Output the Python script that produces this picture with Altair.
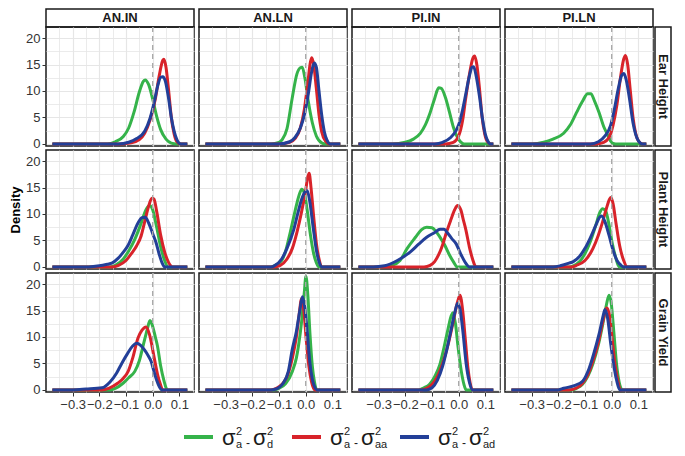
import altair as alt
import pandas as pd

# ---------------- data ----------------
SITES = ["AN.IN", "AN.LN", "PI.IN", "PI.LN"]
TRAITS = ["Ear Height", "Plant Height", "Grain Yield"]
SERIES = ["d", "aa", "ad"]
SERIES_COLORS = ["#35b34a", "#d8232a", "#233f98"]
X_START, X_END = -0.376, 0.13          # flat tails of every density curve
X_GRID = [-0.35, -0.3, -0.25, -0.2, -0.15, -0.1, -0.05, 0.0, 0.05, 0.1, 0.15]
Y_GRID = [0, 2.5, 5, 7.5, 10, 12.5, 15, 17.5, 20]

# (x, density) pairs per series
ear_AN_IN = {
    "d": [(-0.17, 0), (-0.14, 0.4), (-0.11, 1.4), (-0.09, 3), (-0.07, 6), (-0.05, 9.8), (-0.035, 11.8),
          (-0.028, 12.1), (-0.015, 11.2), (0.0, 8.5), (0.015, 5.2), (0.03, 2.7), (0.05, 0.9), (0.07, 0.15), (0.09, 0)],
    "aa": [(-0.12, 0), (-0.08, 0.2), (-0.05, 0.8), (-0.03, 2), (-0.01, 4.5), (0.01, 8.5), (0.025, 13), (0.038, 15.8),
           (0.042, 16), (0.05, 14.5), (0.06, 10), (0.07, 5), (0.08, 2), (0.09, 0.5), (0.105, 0)],
    "ad": [(-0.13, 0), (-0.09, 0.3), (-0.06, 1), (-0.03, 2.4), (-0.01, 4.8), (0.005, 7.7), (0.02, 11.2), (0.03, 12.6),
           (0.038, 12.7), (0.048, 11.8), (0.06, 8.5), (0.07, 5), (0.08, 2.5), (0.09, 0.9), (0.105, 0)],
}
ear_AN_LN = {
    "d": [(-0.13, 0), (-0.1, 0.3), (-0.088, 0.8), (-0.07, 2.9), (-0.051, 8.5), (-0.033, 13.2), (-0.02, 14.4),
          (-0.013, 14.5), (-0.003, 12.5), (0.01, 8), (0.025, 4), (0.04, 1.5), (0.06, 0.2), (0.075, 0)],
    "aa": [(-0.1, 0), (-0.06, 0.3), (-0.04, 1), (-0.02, 3), (-0.005, 6.5), (0.008, 11.5), (0.018, 15.5), (0.023, 16.3),
           (0.03, 15), (0.04, 10.5), (0.05, 5.5), (0.06, 2.3), (0.075, 0.5), (0.09, 0)],
    "ad": [(-0.1, 0), (-0.06, 0.4), (-0.04, 1.2), (-0.02, 3), (-0.005, 5.5), (0.01, 9.5), (0.022, 13.5), (0.032, 15.3),
           (0.04, 14.5), (0.05, 10), (0.06, 5.5), (0.07, 2.3), (0.08, 0.7), (0.092, 0)],
}
ear_PI_IN = {
    "d": [(-0.25, 0), (-0.2, 0.3), (-0.17, 0.9), (-0.144, 2), (-0.125, 3.6), (-0.107, 5.9), (-0.09, 8.6),
          (-0.075, 10.6), (-0.065, 10.5), (-0.05, 8.8), (-0.034, 5.9), (-0.02, 3.2), (-0.01, 1.8), (0.005, 0.5), (0.02, 0)],
    "aa": [(-0.05, 0), (-0.02, 0.3), (0.0, 1.5), (0.015, 4.5), (0.026, 8.5), (0.04, 13), (0.052, 16), (0.06, 16.6),
           (0.068, 15), (0.078, 10.5), (0.088, 5), (0.098, 1.8), (0.11, 0.3), (0.12, 0)],
    "ad": [(-0.09, 0), (-0.06, 0.3), (-0.03, 1.2), (-0.01, 2.5), (0.0, 3.6), (0.015, 6.5), (0.027, 9.5), (0.04, 12.8),
           (0.05, 14.5), (0.056, 14.6), (0.065, 13), (0.078, 9), (0.09, 4.5), (0.1, 1.8), (0.112, 0.3), (0.12, 0)],
}
ear_PI_LN = {
    "d": [(-0.3, 0), (-0.255, 0.3), (-0.22, 0.9), (-0.18, 2), (-0.155, 3.6), (-0.132, 5.9), (-0.11, 8), (-0.09, 9.5),
          (-0.078, 9.5), (-0.065, 8.2), (-0.047, 5.9), (-0.03, 3.3), (-0.016, 1.8), (-0.005, 0.6), (0.005, 0.1), (0.015, 0)],
    "aa": [(-0.06, 0), (-0.03, 0.3), (-0.01, 1.2), (0.005, 3.5), (0.02, 7.5), (0.033, 12.5), (0.045, 16), (0.052, 16.7),
           (0.06, 15), (0.07, 10), (0.08, 5), (0.09, 2), (0.1, 0.6), (0.115, 0)],
    "ad": [(-0.08, 0), (-0.05, 0.4), (-0.025, 1.5), (-0.004, 3.5), (0.01, 6.5), (0.025, 10.5), (0.038, 13), (0.046, 13.3),
           (0.055, 12), (0.067, 8.5), (0.08, 4), (0.09, 1.8), (0.1, 0.6), (0.115, 0)],
}
plant_AN_IN = {
    "d": [(-0.16, 0), (-0.14, 0.3), (-0.11, 1.5), (-0.09, 3), (-0.067, 5.2), (-0.045, 8), (-0.025, 10.8),
          (-0.012, 11.6), (0.0, 10.8), (0.015, 7.5), (0.03, 3.8), (0.045, 1.2), (0.058, 0)],
    "aa": [(-0.15, 0), (-0.128, 0.3), (-0.1, 1.2), (-0.08, 2.5), (-0.06, 4), (-0.043, 5.9), (-0.03, 8.5), (-0.015, 11.5),
           (-0.003, 13), (0.005, 12.8), (0.015, 10.5), (0.03, 6), (0.045, 2.8), (0.06, 0.8), (0.075, 0)],
    "ad": [(-0.24, 0), (-0.2, 0.2), (-0.17, 0.5), (-0.153, 0.7), (-0.13, 1.6), (-0.11, 2.8), (-0.092, 4.1), (-0.075, 6),
           (-0.055, 8.3), (-0.04, 9.3), (-0.028, 9.4), (-0.015, 8.3), (0.0, 6.3), (0.012, 4.7), (0.025, 2.3), (0.035, 0.8),
           (0.045, 0)],
}
plant_AN_LN = {
    "d": [(-0.13, 0), (-0.118, 0.2), (-0.09, 1.2), (-0.075, 3), (-0.058, 6.5), (-0.04, 10.5), (-0.025, 13.5),
          (-0.015, 14.7), (-0.005, 14), (0.005, 11), (0.018, 6), (0.03, 2.5), (0.04, 0.8), (0.05, 0)],
    "aa": [(-0.12, 0), (-0.095, 0.3), (-0.07, 1.5), (-0.05, 3.5), (-0.033, 6.5), (-0.015, 10.5), (0.0, 14.5), (0.008, 17),
           (0.013, 17.7), (0.02, 15), (0.03, 9.5), (0.04, 4.5), (0.05, 1.5), (0.06, 0)],
    "ad": [(-0.13, 0), (-0.118, 0.2), (-0.09, 1.5), (-0.07, 3.5), (-0.045, 7), (-0.03, 10), (-0.015, 12.8),
           (-0.002, 14.2), (0.006, 14.4), (0.015, 12.5), (0.028, 7.5), (0.04, 3.2), (0.05, 1), (0.06, 0)],
}
plant_PI_IN = {
    "d": [(-0.3, 0), (-0.25, 0.3), (-0.22, 1.2), (-0.193, 3.5), (-0.162, 5.6), (-0.14, 7), (-0.12, 7.5), (-0.1, 7.4),
          (-0.085, 6.7), (-0.065, 5.2), (-0.052, 4.1), (-0.035, 2.3), (-0.02, 1), (-0.005, 0)],
    "aa": [(-0.13, 0), (-0.107, 0.3), (-0.09, 1), (-0.075, 2.3), (-0.06, 4.2), (-0.046, 6.5), (-0.03, 8.8),
           (-0.015, 10.8), (-0.004, 11.6), (0.008, 10.8), (0.018, 8.8), (0.027, 7), (0.04, 3.8), (0.052, 1.5), (0.065, 0)],
    "ad": [(-0.32, 0), (-0.278, 0.2), (-0.23, 1.2), (-0.18, 2.9), (-0.15, 4.3), (-0.12, 5.6), (-0.09, 6.5), (-0.07, 7.1),
           (-0.055, 7.1), (-0.04, 6.3), (-0.025, 5.3), (-0.01, 4.4), (0.01, 2.2), (0.025, 0.8), (0.04, 0)],
}
plant_PI_LN = {
    "d": [(-0.16, 0), (-0.144, 0.2), (-0.12, 1), (-0.1, 2.5), (-0.08, 4.8), (-0.06, 7.8), (-0.045, 10.2), (-0.034, 11),
          (-0.022, 10.5), (-0.01, 8), (0.002, 4.5), (0.015, 1.8), (0.028, 0)],
    "aa": [(-0.15, 0), (-0.132, 0.3), (-0.1, 1.2), (-0.07, 3.5), (-0.05, 6), (-0.034, 8.5), (-0.02, 11), (-0.008, 12.8),
           (-0.003, 13.1), (0.005, 12), (0.017, 8), (0.03, 4), (0.045, 1.2), (0.058, 0)],
    "ad": [(-0.22, 0), (-0.193, 0.2), (-0.16, 0.7), (-0.144, 1), (-0.12, 2), (-0.1, 3.5), (-0.08, 5.5), (-0.06, 7.8),
           (-0.045, 9.4), (-0.038, 9.6), (-0.025, 8.5), (-0.01, 6), (0.005, 3.2), (0.02, 1.2), (0.035, 0.3), (0.045, 0)],
}
grain_AN_IN = {
    "d": [(-0.16, 0), (-0.14, 0.3), (-0.11, 1.3), (-0.09, 2.3), (-0.067, 3.5), (-0.05, 5.5), (-0.035, 8.5), (-0.02, 11.5),
          (-0.01, 13.1), (0.0, 12), (0.01, 10), (0.018, 8.3), (0.03, 4.5), (0.042, 1.8), (0.055, 0)],
    "aa": [(-0.19, 0), (-0.165, 0.3), (-0.13, 1.3), (-0.11, 2.2), (-0.092, 3.5), (-0.075, 6), (-0.055, 9.8),
           (-0.04, 11.3), (-0.025, 11.9), (-0.012, 10.5), (0.006, 6), (0.018, 3), (0.028, 1.2), (0.038, 0)],
    "ad": [(-0.3, 0), (-0.25, 0.15), (-0.19, 0.4), (-0.16, 1.5), (-0.135, 3.2), (-0.116, 5), (-0.095, 6.8),
           (-0.075, 8.3), (-0.06, 8.8), (-0.045, 8.4), (-0.03, 7.5), (-0.015, 6.3), (-0.006, 5.4), (0.005, 3.5),
           (0.015, 1.8), (0.025, 0.6), (0.035, 0)],
}
grain_AN_LN = {
    "d": [(-0.12, 0), (-0.1, 0.3), (-0.075, 1.2), (-0.05, 3.5), (-0.035, 6), (-0.027, 8.3), (-0.015, 13), (-0.005, 18.5),
          (0.001, 21.5), (0.008, 18), (0.016, 10.7), (0.025, 4.5), (0.033, 1.5), (0.042, 0)],
    "aa": [(-0.13, 0), (-0.11, 0.3), (-0.09, 1), (-0.07, 2.5), (-0.05, 6), (-0.035, 10), (-0.025, 14), (-0.015, 17.3),
           (-0.007, 15), (0.003, 9), (0.012, 4.5), (0.022, 1.5), (0.034, 0)],
    "ad": [(-0.13, 0), (-0.105, 0.3), (-0.085, 1.2), (-0.065, 3.5), (-0.05, 7.7), (-0.035, 11), (-0.022, 15),
           (-0.012, 17.6), (-0.003, 15.5), (0.006, 11), (0.015, 5.5), (0.025, 2), (0.034, 0.5), (0.042, 0)],
}
grain_PI_IN = {
    "d": [(-0.15, 0), (-0.13, 0.4), (-0.11, 1), (-0.09, 2.5), (-0.071, 4.7), (-0.055, 8), (-0.04, 11.5), (-0.028, 14),
          (-0.022, 14.6), (-0.012, 12.5), (-0.002, 8), (0.01, 3.5), (0.02, 1), (0.028, 0)],
    "aa": [(-0.14, 0), (-0.12, 0.3), (-0.1, 1), (-0.08, 2.5), (-0.06, 5), (-0.04, 8.5), (-0.02, 13), (-0.005, 16.5),
           (0.005, 17.9), (0.015, 15), (0.025, 9.5), (0.035, 4), (0.043, 1.3), (0.052, 0)],
    "ad": [(-0.12, 0), (-0.1, 0.4), (-0.08, 1.8), (-0.06, 4.5), (-0.045, 7.5), (-0.03, 11), (-0.015, 14.5),
           (-0.004, 16.4), (0.006, 15), (0.017, 10.5), (0.028, 5), (0.04, 1.5), (0.052, 0)],
}
grain_PI_LN = {
    "d": [(-0.15, 0), (-0.132, 0.3), (-0.11, 1), (-0.09, 2.5), (-0.07, 5), (-0.05, 8.5), (-0.035, 12), (-0.02, 16),
          (-0.01, 17.9), (-0.002, 16.5), (0.008, 11), (0.018, 5), (0.028, 1.5), (0.04, 0)],
    "aa": [(-0.16, 0), (-0.13, 0.4), (-0.11, 1.2), (-0.09, 2.8), (-0.07, 5.5), (-0.05, 9), (-0.035, 12.5),
           (-0.018, 15.5), (-0.008, 14), (0.002, 9.5), (0.012, 5), (0.022, 2), (0.033, 0)],
    "ad": [(-0.2, 0), (-0.18, 0.3), (-0.14, 0.8), (-0.108, 1.7), (-0.085, 4), (-0.059, 8.3), (-0.045, 11),
           (-0.032, 14), (-0.025, 15.2), (-0.015, 13.5), (-0.003, 8.5), (0.01, 4), (0.02, 1.5), (0.03, 0)],
}

CURVES = {
    ("Ear Height", "AN.IN"): ear_AN_IN, ("Ear Height", "AN.LN"): ear_AN_LN,
    ("Ear Height", "PI.IN"): ear_PI_IN, ("Ear Height", "PI.LN"): ear_PI_LN,
    ("Plant Height", "AN.IN"): plant_AN_IN, ("Plant Height", "AN.LN"): plant_AN_LN,
    ("Plant Height", "PI.IN"): plant_PI_IN, ("Plant Height", "PI.LN"): plant_PI_LN,
    ("Grain Yield", "AN.IN"): grain_AN_IN, ("Grain Yield", "AN.LN"): grain_AN_LN,
    ("Grain Yield", "PI.IN"): grain_PI_IN, ("Grain Yield", "PI.LN"): grain_PI_LN,
}
LEGEND_SUBS = ["d", "aa", "ad"]

# ---------------- styling / layout ----------------
FONT = "Liberation Sans"
PW, PH = 148, 119
ROW_GAP, COL_GAP = 4, 5
STRIP_CELL_H, STRIP_VIS = 14, 18          # strip box reaches down over the row gap
RSTRIP_CELL_W, RSTRIP_VIS = 13, 16        # right strip box reaches left over the column gap
TEXT_COL = "#333333"
GRID_COL = "#e6e6e6"
BORDER = "#1a1a1a"
X_SCALE = alt.Scale(domain=[-0.40, 0.155], nice=False, zero=False)
Y_SCALE = alt.Scale(domain=[-0.4, 22.1], nice=False, zero=False)
X_MINOR = "abs(round(datum.value * 100)) % 10 != 0"
Y_MINOR = "datum.value % 5 != 0"


def cond(test, a, b):
    return {"condition": {"test": test, "value": a}, "value": b}


def x_axis(show):
    return alt.Axis(values=X_GRID, format=".1f",
                    labelExpr=f"({X_MINOR}) ? '' : datum.label",
                    labels=show, ticks=show, tickSize=4, tickColor=TEXT_COL,
                    tickOpacity=cond(X_MINOR, 0, 1), domain=False, grid=True,
                    gridColor=GRID_COL, gridWidth=cond(X_MINOR, 0.8, 1.2),
                    title=None, labelFont=FONT, labelFontSize=13, labelColor=TEXT_COL,
                    labelPadding=2, labelOverlap=False, labelFlush=False)


def y_axis(show, title):
    kw = dict(values=Y_GRID, format=".0f",
              labelExpr=f"({Y_MINOR}) ? '' : datum.label",
              labels=show, ticks=show, tickSize=4, tickColor=TEXT_COL,
              tickOpacity=cond(Y_MINOR, 0, 1), domain=False, grid=True,
              gridColor=GRID_COL, gridWidth=cond(Y_MINOR, 0.8, 1.2),
              labelFont=FONT, labelFontSize=13, labelColor=TEXT_COL,
              labelPadding=2, labelOverlap=False, labelFlush=False)
    if title:
        kw.update(title="Density", titleFont=FONT, titleFontSize=13, titleFontWeight="bold",
                  titleColor="#000000", titlePadding=3)
    else:
        kw.update(title=None)
    return alt.Axis(**kw)


def panel(trait, site, ci, ri):
    layers = []
    for s, col in zip(SERIES, SERIES_COLORS):
        pts = [(X_START, 0)] + CURVES[(trait, site)][s] + [(X_END, 0)]
        data = pd.DataFrame(pts, columns=["x", "density"])
        layers.append(
            alt.Chart(data).mark_line(color=col, strokeWidth=3, interpolate="monotone").encode(
                x=alt.X("x:Q", scale=X_SCALE, axis=x_axis(ri == 2)),
                y=alt.Y("density:Q", scale=Y_SCALE, axis=y_axis(ci == 0, ci == 0 and ri == 1)),
            )
        )
    vline = alt.Chart(pd.DataFrame({"x": [0.0]})).mark_rule(
        color="#a8a8a8", strokeDash=[5, 4], strokeWidth=1.3).encode(
        x=alt.X("x:Q", scale=X_SCALE, axis=x_axis(ri == 2)))
    return alt.layer(*layers, vline).properties(width=PW, height=PH)


BAND = alt.Scale(paddingInner=0, paddingOuter=0)
NO_VIEW = alt.ViewBackground(strokeOpacity=0)


def top_strip(label):
    base = alt.Chart(pd.DataFrame({"label": [label]}))
    box = base.mark_rect(fill="white", stroke=BORDER, strokeWidth=1.5).encode(
        x=alt.X("label:N", axis=None, scale=BAND), y=alt.value(0), y2=alt.value(STRIP_VIS))
    txt = base.mark_text(font=FONT, fontWeight="bold", fontSize=13, color="#1a1a1a",
                         baseline="middle").encode(
        x=alt.X("label:N", axis=None, scale=BAND), y=alt.value(STRIP_VIS / 2), text="label:N")
    return alt.layer(box, txt).properties(width=PW, height=STRIP_CELL_H, view=NO_VIEW)


def right_strip(label):
    base = alt.Chart(pd.DataFrame({"label": [label]}))
    off = RSTRIP_VIS - RSTRIP_CELL_W
    box = base.mark_rect(fill="white", stroke=BORDER, strokeWidth=1.5).encode(
        y=alt.Y("label:N", axis=None, scale=BAND), x=alt.value(-off), x2=alt.value(RSTRIP_CELL_W))
    txt = base.mark_text(font=FONT, fontWeight="bold", fontSize=13, color="#1a1a1a",
                         baseline="middle", angle=90).encode(
        y=alt.Y("label:N", axis=None, scale=BAND), x=alt.value(RSTRIP_CELL_W - RSTRIP_VIS / 2),
        text="label:N")
    return alt.layer(box, txt).properties(width=RSTRIP_CELL_W, height=PH, view=NO_VIEW)


blank = alt.Chart(pd.DataFrame({"label": [" "]})).mark_text().encode(
    x=alt.X("label:N", axis=None, scale=BAND), text="label:N").properties(
    width=RSTRIP_CELL_W, height=STRIP_CELL_H, view=NO_VIEW)

cells = [top_strip(s) for s in SITES] + [blank]
for ri, trait in enumerate(TRAITS):
    for ci, site in enumerate(SITES):
        cells.append(panel(trait, site, ci, ri))
    cells.append(right_strip(trait))
grid = alt.concat(*cells, columns=5, spacing={"row": ROW_GAP, "column": COL_GAP}, bounds="flush")

# ---------------- custom legend (sigma^2_a - sigma^2_x) ----------------
# legend origin is aligned with the left edge of the first panel
LEG_W, LEG_H = 560, 20
LEG_X0, LEG_PITCH, LEG_LINE = 138, 108, 29
leg_df = pd.DataFrame({"series": SERIES, "idx": [0, 1, 2], "sub": LEGEND_SUBS})
LS = alt.Scale(domain=[0, LEG_W], nice=False, zero=False)
CS = alt.Scale(domain=SERIES, range=SERIES_COLORS)
leg_base = alt.Chart(leg_df).transform_calculate(
    pos=f"{LEG_X0} + datum.idx * {LEG_PITCH}",
    pos2=f"{LEG_X0} + datum.idx * {LEG_PITCH} + {LEG_LINE}",
)
mid = LEG_H / 2
leg_layers = [
    leg_base.mark_rule(strokeWidth=4).encode(
        x=alt.X("pos:Q", scale=LS, axis=None), x2="pos2:Q", y=alt.value(mid),
        color=alt.Color("series:N", scale=CS, legend=None))
]
pieces = [("σ", 38, 8, 22), ("2", 52, -2, 11), ("a", 52, 11, 11), ("-", 62, 10, 12),
          ("σ", 69, 8, 22), ("2", 83, -2, 11)]
for txt, dx, dy, size in pieces:
    leg_layers.append(leg_base.mark_text(align="left", baseline="alphabetic", dx=dx, dy=dy,
                                         fontSize=size, font=FONT, color="#1a1a1a").encode(
        x=alt.X("pos:Q", scale=LS, axis=None), y=alt.value(mid), text=alt.value(txt)))
leg_layers.append(leg_base.mark_text(align="left", baseline="alphabetic", dx=83, dy=11,
                                     fontSize=11, font=FONT, color="#1a1a1a").encode(
    x=alt.X("pos:Q", scale=LS, axis=None), y=alt.value(mid), text="sub:N"))
legend = alt.layer(*leg_layers).properties(width=LEG_W, height=LEG_H, view=NO_VIEW)

chart = alt.vconcat(grid, legend, spacing=14).properties(
    padding=0
).configure(font=FONT).configure_view(stroke=BORDER, strokeWidth=1.5)

chart.save("out.html", embed_options={"renderer": "svg", "actions": False})
